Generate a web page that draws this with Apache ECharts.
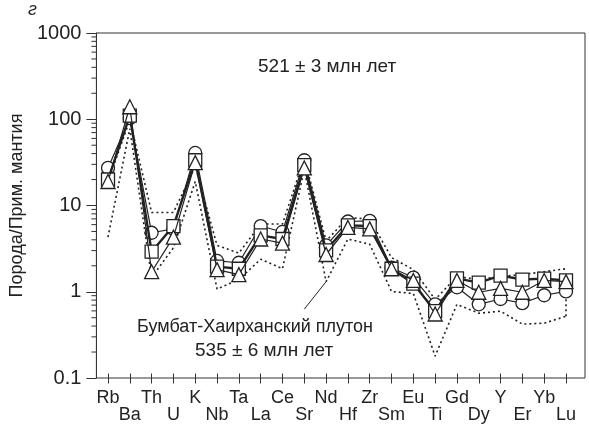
<!DOCTYPE html>
<html><head><meta charset="utf-8">
<script src="https://cdn.jsdelivr.net/npm/echarts@6/dist/echarts.min.js"></script>
<style>html,body{margin:0;padding:0;background:#fff}#c{width:589px;height:424px}</style>
</head><body><div id="c"></div>
<script>
const categories = ['Rb','Ba','Th','U','K','Nb','Ta','La','Ce','Sr','Nd','Hf','Zr','Sm','Eu','Ti','Gd','Dy','Y','Er','Yb','Lu'];
const circles   = [26,100,4.5,5.0,39,2.1,2.0,5.4,4.6,32,3.2,6.1,6.2,1.75,1.34,0.65,1.03,0.65,0.75,0.67,0.83,0.92];
const squares   = [19,107,2.7,5.4,32,1.8,1.7,4.2,3.8,28,2.8,5.5,5.4,1.7,1.14,0.54,1.31,1.17,1.41,1.27,1.3,1.24];
const triangles = [18,136,1.57,4.0,30,1.66,1.45,3.8,3.4,26,2.5,5.2,5.0,1.7,1.24,0.50,1.24,0.90,1.0,0.90,1.24,1.2];
const upperEnv  = [18,95,7.8,7.8,27,3.2,2.6,5.7,5.7,34,3.6,6.8,6.5,2.3,1.66,0.74,1.38,1.27,1.38,1.45,1.57,1.7];
const lowerEnv  = [4.0,75,1.35,3.0,18,0.98,1.27,2.2,1.7,25,1.2,3.8,3.3,0.92,0.87,0.16,0.65,0.51,0.54,0.38,0.39,0.47];
const lowerEnvEnd = [[21,0.47],[21,1.0]];
const leader    = [[9.4,0.57],[10,1.2]];
const minorTicks = [];
[0.1,1,10,100].forEach(d => { for (let k = 2; k <= 9; k++) minorTicks.push(+(d*k).toPrecision(3)); });

const font = 'Liberation Sans, Arial, sans-serif';
const ink = '#222';
const chart = echarts.init(document.getElementById('c'), null, {renderer:'canvas'});

function env(data){
  return {type:'line', xAxisIndex:1, yAxisIndex:1, data:data, symbol:'none', silent:true, z:1,
    lineStyle:{color:ink, width:1.6, type:[2,3]}};
}
function sample(data, sym, size, w, z){
  return {type:'line', xAxisIndex:1, yAxisIndex:1, data:data, symbol:sym, symbolSize:size, z:z,
    lineStyle:{color:ink, width:w}, itemStyle:{color:'#fff', borderColor:ink, borderWidth:1.3}};
}

chart.setOption({
  animation:false,
  backgroundColor:'#fff',
  grid:[
    {left:88, right:4, top:33, bottom:46, show:true, borderColor:'#333', borderWidth:1, backgroundColor:'transparent'},
    {left:108, right:23, top:33, bottom:46}
  ],
  xAxis:[
    {type:'value', gridIndex:0, min:0, max:1, show:false},
    {type:'category', gridIndex:1, data:categories, boundaryGap:false,
      axisLine:{show:false},
      axisTick:{show:true, length:10, inside:false, alignWithLabel:true, lineStyle:{color:'#333', width:1}},
      axisLabel:{interval:0, margin:16, color:ink, fontFamily:font, fontSize:18, lineHeight:17,
        formatter:(v,i)=> i%2 ? '\n'+v : v},
      splitLine:{show:false}}
  ],
  yAxis:[
    {type:'log', gridIndex:0, min:0.1, max:1000, logBase:10,
      name:'Порода/Прим. мантия', nameLocation:'middle', nameGap:62,
      nameTextStyle:{color:ink, fontFamily:font, fontSize:18},
      axisLine:{show:true, lineStyle:{color:'#333', width:1}},
      axisTick:{show:true, length:10, lineStyle:{color:'#333', width:1}},
      axisLabel:{color:ink, fontFamily:font, fontSize:20, margin:15,
        formatter:v=> String(parseFloat(Number(v).toPrecision(6)))},
      splitLine:{show:false}},
    {type:'log', gridIndex:1, min:0.1, max:1000, logBase:10, show:false}
  ],
  series:[
    {type:'custom', xAxisIndex:0, yAxisIndex:0, data:minorTicks.map(v=>[0,v]), silent:true, z:5,
      renderItem:function(params, api){
        const p = api.coord([0, api.value(1)]);
        return {type:'line', shape:{x1:p[0]-5, y1:p[1], x2:p[0], y2:p[1]},
          style:{stroke:'#333', lineWidth:1}};
      }},
    env(upperEnv),
    env(lowerEnv),
    env(lowerEnvEnd),
    {type:'line', xAxisIndex:1, yAxisIndex:1, data:leader, symbol:'none', silent:true, z:1,
      lineStyle:{color:ink, width:1}},
    sample(circles, 'circle', 13, 1.2, 3),
    sample(squares, 'rect', 13, 2.4, 4),
    sample(triangles, 'triangle', 14, 1.2, 5)
  ],
  graphic:[
    {type:'text', left:28, top:1, style:{text:'г', fill:ink, font:'italic 18px '+font}},
    {type:'text', left:258, top:57, style:{text:'521 ± 3 млн лет', fill:ink, font:'19px '+font}},
    {type:'text', left:137, top:318, style:{text:'Бумбат-Хаирханский плутон', fill:ink, font:'18px '+font}},
    {type:'text', left:195, top:341, style:{text:'535 ± 6 млн лет', fill:ink, font:'19px '+font}}
  ]
});
</script></body></html>
